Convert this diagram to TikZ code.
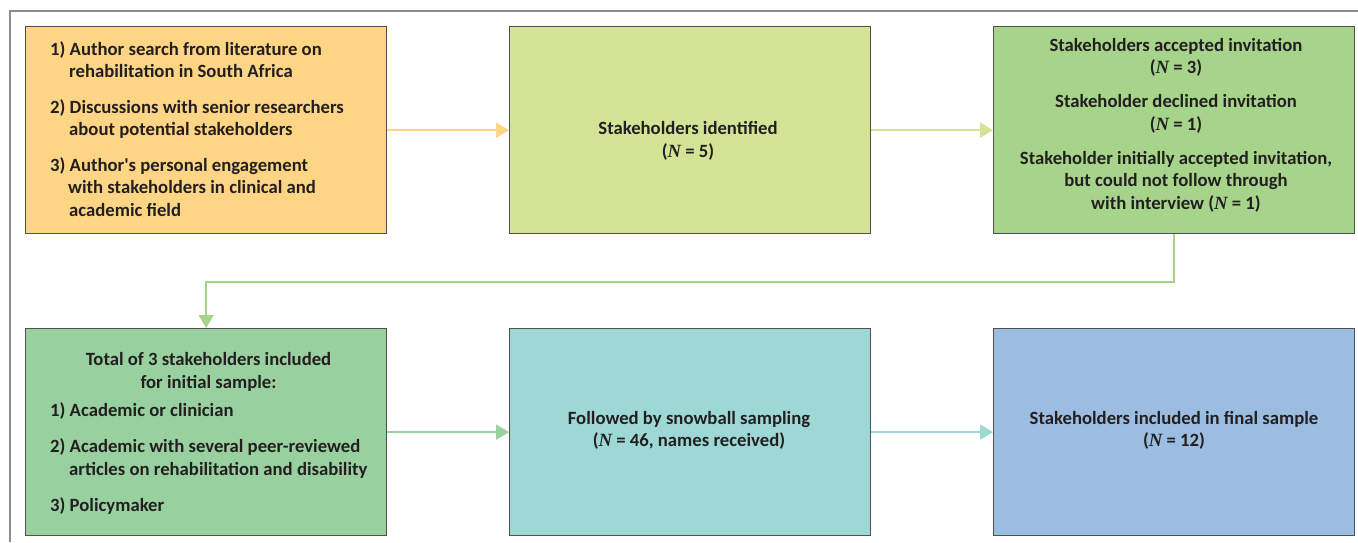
\documentclass[tikz,border=0pt]{standalone}
\usepackage{fontspec}
\setmainfont{Carlito}[Ligatures=TeXOff]
\newfontfamily\nserif{Liberation Serif}
\usetikzlibrary{arrows.meta}
\definecolor{cA}{HTML}{FDD585}
\definecolor{cB}{HTML}{D3E497}
\definecolor{cC}{HTML}{A7D48B}
\definecolor{cD}{HTML}{99D0A0}
\definecolor{cE}{HTML}{9DD8D6}
\definecolor{cF}{HTML}{9CBDE2}
\definecolor{txt}{HTML}{231F20}
\definecolor{edge}{HTML}{505050}
\newcommand{\NN}{{\nserif\bfseries\itshape N}}
\begin{document}
\begin{tikzpicture}[x=1pt,y=-1pt,
  stagebox/.style={draw=edge,line width=1.3pt,inner sep=0pt,anchor=north west,minimum width=361pt,minimum height=207pt},
  label/.style={inner sep=0pt,text=txt,font=\bfseries\fontsize{18.7}{22.5}\selectfont},
  conn/.style={line width=2pt,-{Triangle[length=13pt,width=15pt]}}]
\useasboundingbox (0,0) rectangle (1358,542);
\draw[draw=gray!90,line width=1.2pt] (10,542) -- (10,11) -- (1358,11);
% boxes
\node[stagebox,fill=cA] (b1) at (25,26) {};
\node[stagebox,fill=cB] (b2) at (509,26) {};
\node[stagebox,fill=cC] (b3) at (993,26) {};
\node[stagebox,fill=cD] (b4) at (25,328) {};
\node[stagebox,fill=cE] (b5) at (509,328) {};
\node[stagebox,fill=cF] (b6) at (993,328) {};
% texts
\node[label,align=left,anchor=west] (t1) at (50,129) {1) Author search from literature on\\
\hspace*{19pt}rehabilitation in South Africa\\[13pt]
2) Discussions with senior researchers\\
\hspace*{19pt}about potential stakeholders\\[13pt]
3) Author's personal engagement\\
\hspace*{18pt}with stakeholders in clinical and\\
\hspace*{19pt}academic field};
\node[label,align=center] (t2) at (688,141) {Stakeholders identified\\(\NN{} = 5)};
\node[label,align=center] (t3) at (1176,125.2) {Stakeholders accepted invitation\\(\NN{} = 3)\\[11.5pt]
Stakeholder declined invitation\\(\NN{} = 1)\\[11.5pt]
Stakeholder initially accepted invitation,\\but could not follow through\\with interview (\NN{} = 1)};
\node[label,align=center] (t4a) at (208.5,372) {Total of 3 stakeholders included\\for initial sample:};
\node[label,align=left,anchor=west] (t4b) at (50,458.5) {1) Academic or clinician\\[13.5pt]
2) Academic with several peer-reviewed\\
\hspace*{19pt}articles on rehabilitation and disability\\[13.5pt]
3) Policymaker};
\node[label,align=center] (t5) at (689,430.5) {Followed by snowball sampling\\(\NN{} = 46, names received)};
\node[label,align=center] (t6) at (1174,430.5) {Stakeholders included in final sample\\(\NN{} = 12)};
% connectors
\draw[conn,draw=cA] (b1.east) -- (b2.west);
\draw[conn,draw=cB] (b2.east) -- (b3.west);
\draw[conn,draw=cC] (b3.south) -- ++(0,48) -| (b4.north);
\draw[conn,draw=cD] (b4.east) -- (b5.west);
\draw[conn,draw=cE] (b5.east) -- (b6.west);
\end{tikzpicture}
\end{document}
